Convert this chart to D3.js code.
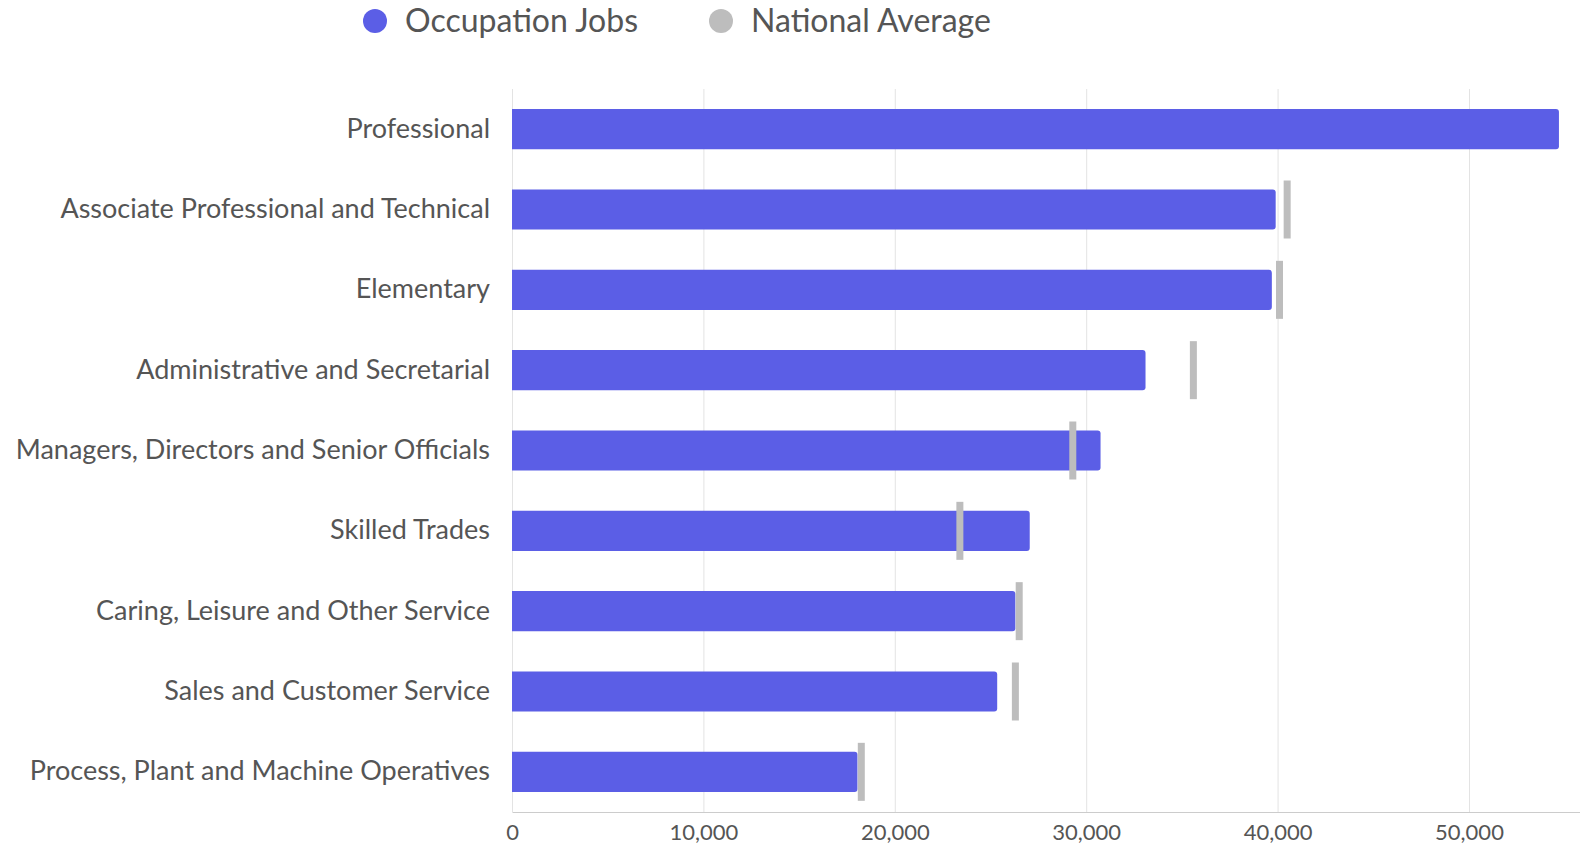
<!doctype html>
<html>
<head>
    <title>Occupation jobs</title>
    <script src="https://d3js.org/d3.v7.min.js"></script>
    <style>
      body { margin: 0; background: #fff; }
      text { font-family: Lato, "Open Sans", sans-serif; fill: #555; }
    </style>
</head>
<body>
    <script>
    var width = 1580, height = 844;

    // data
    var categories = [
      "Professional",
      "Associate Professional and Technical",
      "Elementary",
      "Administrative and Secretarial",
      "Managers, Directors and Senior Officials",
      "Skilled Trades",
      "Caring, Leisure and Other Service",
      "Sales and Customer Service",
      "Process, Plant and Machine Operatives"
    ];
    var occupationJobs = [54700, 39900, 39700, 33100, 30750, 27050, 26300, 25350, 18050];
    var nationalAverage = [null, 40500, 40100, 35600, 29300, 23400, 26500, 26300, 18250];
    var xTicks = [0, 10000, 20000, 30000, 40000, 50000];
    var seriesNames = ["Occupation Jobs", "National Average"];
    var seriesColors = ["#5b5ee6", "#bdbdbd"];

    var plotLeft = 512, plotRight = 1580, plotTop = 89, plotBottom = 812;

    var svg = d3.select("body")
                .append("svg")
                .attr("width", width)
                .attr("height", height);

    var x = d3.scaleLinear()
              .domain([0, 55800])
              .range([plotLeft, plotRight]);

    var y = d3.scaleBand()
              .domain(categories)
              .range([plotTop, plotBottom])
              .paddingInner(0.5)
              .paddingOuter(0.25);

    // gridlines
    svg.append("g")
       .selectAll("line")
       .data(xTicks)
       .enter()
       .append("line")
       .attr("x1", function(d){ return x(d) + 0.5 })
       .attr("x2", function(d){ return x(d) + 0.5 })
       .attr("y1", plotTop)
       .attr("y2", plotBottom)
       .style("stroke", "#e3e3e3")
       .style("stroke-width", 1)

    // bottom axis
    var xAxis = d3.axisBottom(x)
                  .tickValues(xTicks)
                  .tickSize(0)
                  .tickPadding(12)
                  .tickFormat(d3.format(","));

    var axisG = svg.append("g")
       .attr("transform", "translate(0," + plotBottom + ")")
       .call(xAxis);
    axisG.select(".domain").style("stroke", "#ccc");
    axisG.selectAll("text")
         .style("font-size", "22px")
         .style("font-family", "Lato, sans-serif")
         .attr("fill", "#555");

    // category labels
    var yAxis = d3.axisLeft(y).tickSize(0).tickPadding(22);
    var yG = svg.append("g")
       .attr("transform", "translate(" + plotLeft + ",0)")
       .call(yAxis);
    yG.select(".domain").remove();
    yG.selectAll("text")
      .style("font-size", "27px")
      .style("font-family", "Lato, sans-serif")
      .attr("fill", "#555");

    var rows = categories.map(function(c, i){
      return { cat: c, jobs: occupationJobs[i], avg: nationalAverage[i] };
    });

    // bars with rounded right end
    var r = 3;
    svg.append("g")
       .selectAll("path")
       .data(rows)
       .enter()
       .append("path")
       .attr("d", function(d){
         var x0 = x(0), x1 = x(d.jobs), y0 = y(d.cat), h = y.bandwidth();
         return "M" + x0 + "," + y0 +
                "H" + (x1 - r) +
                "Q" + x1 + "," + y0 + " " + x1 + "," + (y0 + r) +
                "V" + (y0 + h - r) +
                "Q" + x1 + "," + (y0 + h) + " " + (x1 - r) + "," + (y0 + h) +
                "H" + x0 + "Z";
       })
       .style("fill", seriesColors[0])

    // national average markers
    var markH = 58, markW = 7;
    svg.append("g")
       .selectAll("rect")
       .data(rows.filter(function(d){ return d.avg != null }))
       .enter()
       .append("rect")
       .attr("x", function(d){ return x(d.avg) - markW / 2 })
       .attr("y", function(d){ return y(d.cat) + y.bandwidth() / 2 - markH / 2 })
       .attr("width", markW)
       .attr("height", markH)
       .style("fill", seriesColors[1])

    // legend
    var legendX = [375, 721];
    var legend = svg.append("g")
       .selectAll("g")
       .data(seriesNames)
       .enter()
       .append("g")
       .attr("transform", function(d, i){ return "translate(" + legendX[i] + ",21)" });

    legend.append("circle")
          .attr("r", 12)
          .style("fill", function(d, i){ return seriesColors[i] });

    legend.append("text")
          .attr("x", 30)
          .attr("dy", "0.35em")
          .style("font-size", "32px")
          .text(function(d){ return d });
    </script>
</body>
</html>
